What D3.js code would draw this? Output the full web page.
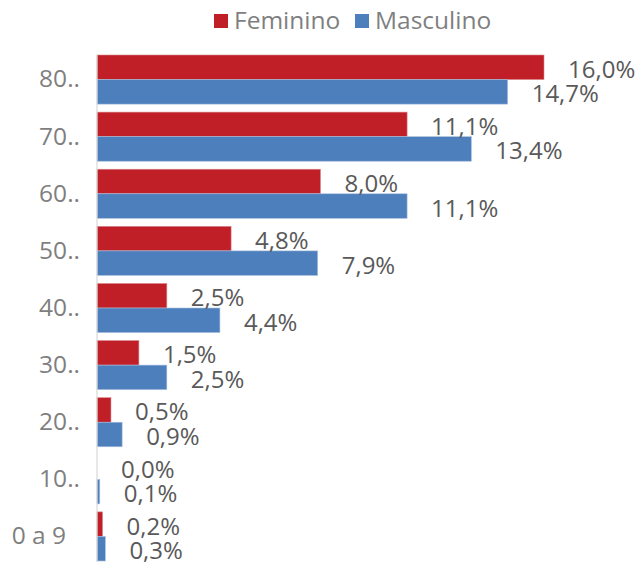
<!DOCTYPE html>
<html>
<head>
<meta charset="utf-8">
<script src="https://cdn.jsdelivr.net/npm/d3@7"></script>
<style>
  body { margin: 0; background: #fff; }
  text { font-family: "Open Sans", sans-serif; }
</style>
</head>
<body>
<svg id="chart" width="636" height="562"></svg>
<script>
const categories = ["80..", "70..", "60..", "50..", "40..", "30..", "20..", "10..", "0 a 9"]
const feminino = [16.0, 11.1, 8.0, 4.8, 2.5, 1.5, 0.5, 0.0, 0.2]
const masculino = [14.7, 13.4, 11.1, 7.9, 4.4, 2.5, 0.9, 0.1, 0.3]
const seriesNames = ["Feminino", "Masculino"]
const colors = ["#c01f28", "#4e7fbd"]

const svg = d3.select('#chart')
const width = 636, height = 562

const rows = categories.map((c, i) => ({ cat: c, values: [feminino[i], masculino[i]] }))

const x = d3.scaleLinear().domain([0, 16]).range([97, 544])
const y = d3.scaleBand().domain(categories).range([51, 565])
  .paddingInner(0.14).paddingOuter(0.07)
const sub = d3.scaleBand().domain([0, 1]).range([0, y.bandwidth()])

const fmt = v => v.toFixed(1).replace('.', ',') + '%'

const groups = svg.append('g').selectAll('g')
  .data(rows)
  .enter().append('g')
  .attr('transform', d => `translate(0,${y(d.cat)})`)

groups.selectAll('rect')
  .data(d => d.values.map((v, k) => ({ v, k })))
  .enter().append('rect')
  .attr('x', x(0))
  .attr('y', d => sub(d.k))
  .attr('width', d => x(d.v) - x(0))
  .attr('height', sub.bandwidth())
  .attr('fill', d => colors[d.k])
  .attr('stroke', d => d.k == 0 ? '#d98a8e' : '#a9c1df')
  .attr('stroke-width', 0.6)

groups.selectAll('text.val')
  .data(d => d.values.map((v, k) => ({ v, k })))
  .enter().append('text')
  .attr('class', 'val')
  .attr('x', d => x(d.v) + 24)
  .attr('y', d => sub(d.k) + sub.bandwidth() / 2 + 1)
  .attr('dominant-baseline', 'central')
  .attr('font-size', 24)
  .attr('fill', '#595959')
  .text(d => fmt(d.v))

// axis line, category labels
const yAxis = svg.append('g')
  .attr('transform', `translate(${x(0)},0)`)
  .call(d3.axisLeft(y).tickSize(0).tickPadding(17))
yAxis.select('.domain').attr('stroke', '#d9d9d9').attr('stroke-width', 1.2)
  .attr('d', `M0,${y.range()[0] + 4}V${height}`)
yAxis.selectAll('.tick text')
  .attr('font-family', '"Open Sans", sans-serif')
  .attr('font-size', 24.5)
  .attr('fill', '#7f7f7f')
  .attr('dx', d => d == "0 a 9" ? -14 : 0)

// legend
const legend = svg.append('g')
const legendX = [214, 355]
seriesNames.forEach((name, k) => {
  legend.append('rect')
    .attr('x', legendX[k]).attr('y', 14)
    .attr('width', 14).attr('height', 14)
    .attr('fill', colors[k])
  legend.append('text')
    .attr('x', legendX[k] + 20).attr('y', 29)
    .attr('font-size', 24.5)
    .attr('fill', '#7f7f7f')
    .text(name)
})
</script>
</body>
</html>
